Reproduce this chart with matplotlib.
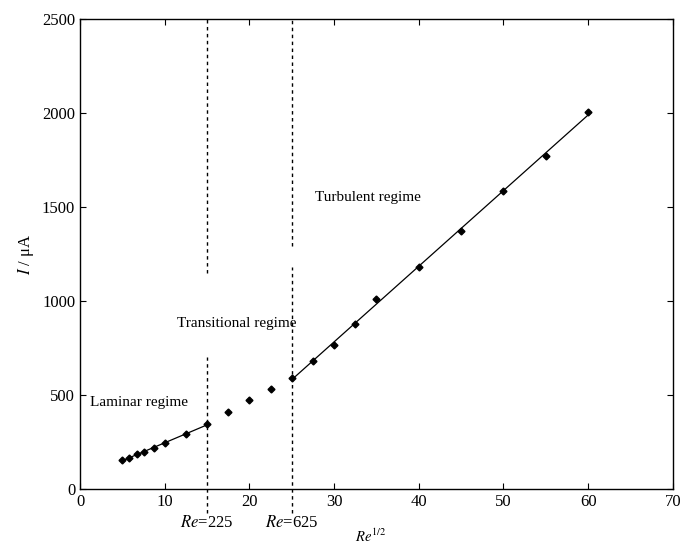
import numpy as np
import matplotlib.pyplot as plt

plt.rcParams['font.family'] = ['Liberation Serif', 'DejaVu Serif']

# Re^(1/2) and current I (uA)
x_lam = [5.0, 5.8, 6.7, 7.5, 8.7, 10.0, 12.5, 15.0]
i_lam = [155, 165, 185, 197, 216, 243, 291, 346]
x_tra = [17.5, 20.0, 22.5]
i_tra = [411, 473, 532]
x_tur = [25.0, 27.5, 30.0, 32.5, 35.0, 40.0, 45.0, 50.0, 55.0, 60.0]
i_tur = [592, 681, 766, 876, 1009, 1183, 1374, 1587, 1773, 2007]

x_bounds = [15, 25]
bound_labels = ['Re=225', 'Re=625']

fig = plt.figure(figsize=(6.81, 5.48), dpi=100)
ax = fig.add_axes([0.1175, 0.1077, 0.8705, 0.8576])

# fitted lines for laminar and turbulent parts
p1 = np.polyfit(x_lam, i_lam, 1)
xs = np.array([x_lam[0], x_lam[-1]])
ax.plot(xs, np.polyval(p1, xs), color='black', lw=0.9)
p2 = np.polyfit(x_tur, i_tur, 1)
xs = np.array([x_tur[0], x_tur[-1]])
ax.plot(xs, np.polyval(p2, xs), color='black', lw=0.9)

for xx, yy in [(x_lam, i_lam), (x_tra, i_tra), (x_tur, i_tur)]:
    ax.plot(xx, yy, 'D', color='black', ms=3.5, ls='none')

# dashed boundaries, with gaps where the labels sit
gaps = [(700, 1150), (1180, 1290)]
for xb, (g0, g1) in zip(x_bounds, gaps):
    ax.plot([xb, xb], [-130, g0], color='black', ls=(0, (2.5, 2.5)), lw=1.0, clip_on=False)
    ax.plot([xb, xb], [g1, 2500], color='black', ls=(0, (2.5, 2.5)), lw=1.0, clip_on=False)

ax.text(1.2, 440, 'Laminar regime', fontsize=11)
ax.text(11.5, 860, 'Transitional regime', fontsize=11)
ax.text(27.8, 1530, 'Turbulent regime', fontsize=11)

for xb, lab in zip(x_bounds, bound_labels):
    ax.text(xb, -180, r'$\mathit{Re}$' + lab[2:], ha='center', va='center',
            fontsize=12, math_fontfamily='stix')

ax.set_xlim(0, 70)
ax.set_ylim(0, 2500)
ax.set_xticks(range(0, 71, 10))
ax.set_yticks(range(0, 2501, 500))
ax.tick_params(direction='in', top=True, right=True, labelsize=12, length=4)
ax.set_xlabel(r'$Re^{1/2}$', fontsize=10.5, math_fontfamily='stix')
ax.xaxis.set_label_coords(0.49, -0.082)
ax.set_ylabel(r'$I$ / μA', fontsize=12, math_fontfamily='stix')
for s in ax.spines.values():
    s.set_linewidth(1.0)

fig.savefig('out.png', dpi=100)
